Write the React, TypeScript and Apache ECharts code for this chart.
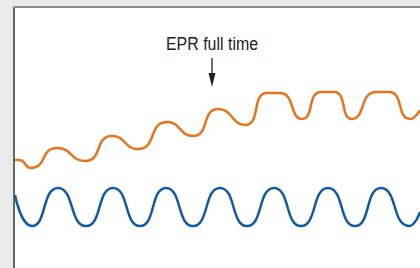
import React, { useEffect, useRef } from "react";
import * as echarts from "echarts";

// time offsets (arbitrary units) and signal levels (peaks and troughs)
const blueTime = [0, 17, 43, 71, 98, 125, 151, 178, 205, 232, 259, 286, 313, 340, 366, 394, 405];
const blueValue = [73, 42, 80, 42, 80, 42, 80, 42, 80, 42, 80, 42, 80, 42, 80, 42, 56];

const orangeTime = [0, 4, 16, 42, 70, 97, 123, 152, 178, 203, 230, 252, 265, 287, 306, 319, 337, 361, 374, 395, 405];
const orangeValue = [108, 108, 100, 120, 107, 132, 119, 146, 132, 159, 143, 175, 175, 149, 176, 176, 149, 176, 176, 149, 158];

const annotationText = "EPR full time";
const annotationTime = 197;
const annotationTop = 210; // value at arrow start
const annotationTip = 181; // value at arrow tip

export default function App() {
  const ref = useRef<HTMLDivElement>(null);
  useEffect(() => {
    if (!ref.current) return;
    const chart = echarts.init(ref.current, null, { renderer: "svg" });
    const zip = (t: number[], v: number[]) => t.map((x, i) => [x, v[i]]);
    chart.setOption({
      animation: false,
      backgroundColor: "#e9ebea",
      grid: { left: 15, right: 0, top: 8, bottom: 0, show: true, backgroundColor: "#ffffff", borderWidth: 0 },
      xAxis: { type: "value", min: 0, max: 405, show: false },
      yAxis: { type: "value", min: 0, max: 260, show: false },
      series: [
        {
          type: "line",
          data: zip(orangeTime, orangeValue),
          smooth: 0.6,
          symbol: "none",
          lineStyle: { color: "#e8731e", width: 2.5 },
        },
        {
          type: "line",
          data: zip(blueTime, blueValue),
          smooth: 0.6,
          symbol: "none",
          lineStyle: { color: "#0f5ba3", width: 2.5 },
        },
      ],
    });
    const [ax, ay0] = chart.convertToPixel({ gridIndex: 0 }, [annotationTime, annotationTop]) as number[];
    const [, ay1] = chart.convertToPixel({ gridIndex: 0 }, [annotationTime, annotationTip]) as number[];
    chart.setOption({
      graphic: [
        { type: "rect", shape: { x: 13, y: 6, width: 2, height: 262 }, style: { fill: "#666666" } },
        { type: "rect", shape: { x: 13, y: 6, width: 407, height: 2 }, style: { fill: "#8a8a8a" } },
        {
          type: "text",
          x: ax,
          y: ay0 - 5,
          scaleX: 0.84,
          style: {
            text: annotationText,
            fill: "#222222",
            font: '19px "Liberation Sans", Arial, sans-serif',
            textAlign: "center",
            textVerticalAlign: "bottom",
          },
        },
        { type: "line", shape: { x1: ax, y1: ay0, x2: ax, y2: ay1 - 8 }, style: { stroke: "#222222", lineWidth: 1.3 } },
        {
          type: "polygon",
          shape: { points: [[ax - 3.5, ay1 - 14], [ax + 3.5, ay1 - 14], [ax, ay1]] },
          style: { fill: "#222222" },
        },
      ],
    });
    return () => chart.dispose();
  }, []);
  return <div ref={ref} style={{ position: "fixed", left: 0, top: 0, width: 420, height: 268 }} />;
}
